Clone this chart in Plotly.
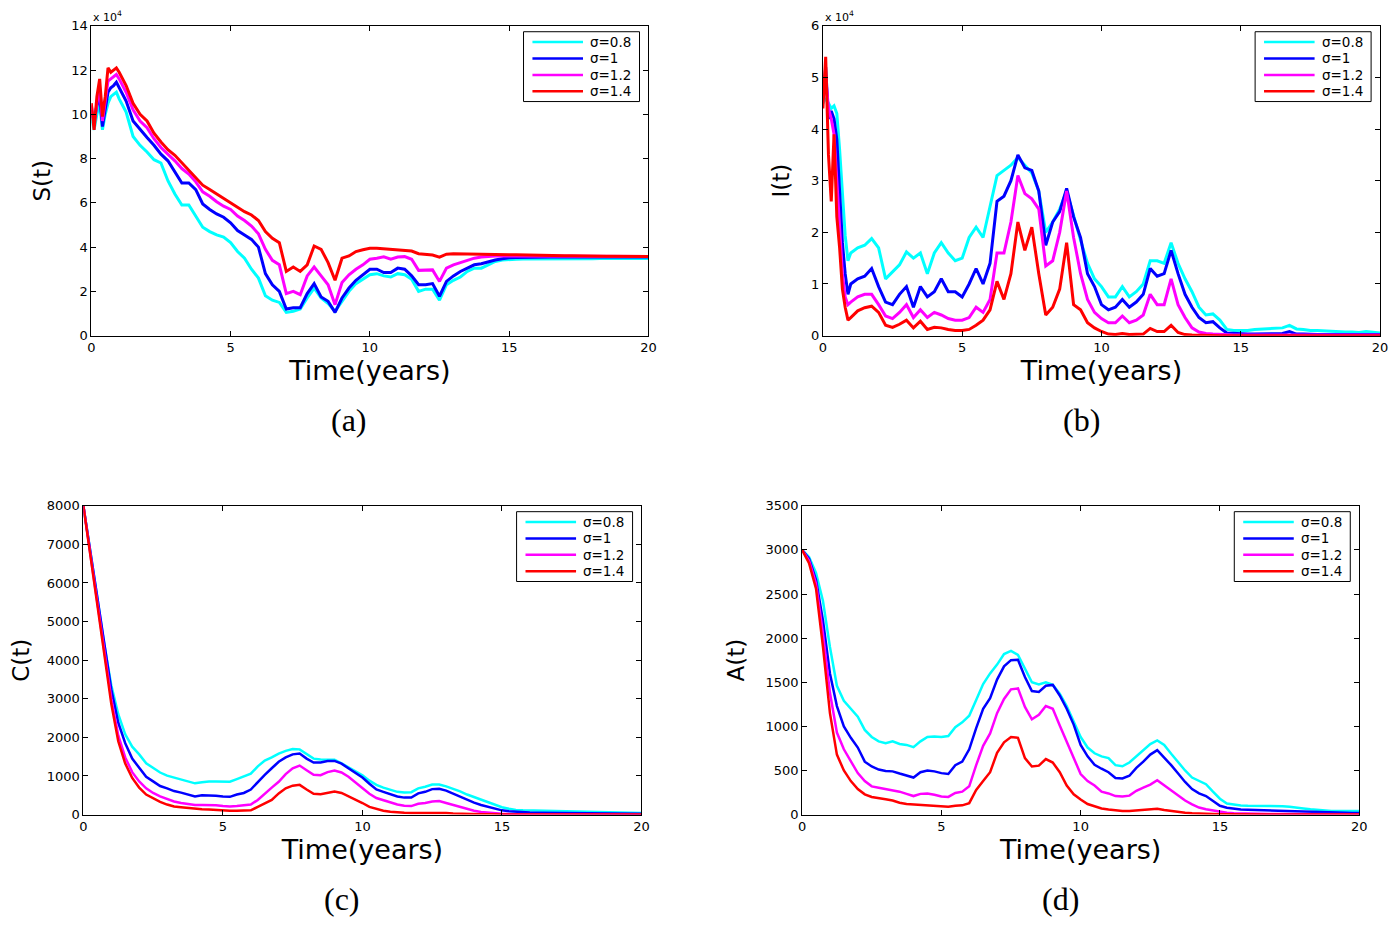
import numpy as np
import plotly.graph_objects as go

# time grids (years)
t_fine = [0, 0.1, 0.2, 0.3, 0.4, 0.5, 0.6, 0.7, 0.8, 0.9, 1.0]
t_si = t_fine + [round(v, 2) for v in np.arange(1.25, 20.01, 0.25)]
t_ca = [round(v, 2) for v in np.arange(0, 20.01, 0.25)]

labels = ["σ=0.8", "σ=1", "σ=1.2", "σ=1.4"]
colors = ["#00FFFF", "#0000FF", "#FF00FF", "#FF0000"]

# S(t), units of 1e4
S_08 = [9.9, 9.3, 10.0, 10.5, 9.3, 10.0, 10.5, 10.8, 10.9, 11.0, 10.7,
        10.1, 9.0, 8.6, 8.3,
        7.95, 7.8, 7.0, 6.4,
        5.9, 5.9, 5.4, 4.9,
        4.7, 4.55, 4.45, 4.2,
        3.8, 3.5, 3.0, 2.6,
        1.8, 1.6, 1.5, 1.05,
        1.1, 1.2, 1.7, 2.15,
        1.7, 1.45, 1.1, 1.55,
        2.0, 2.35, 2.55, 2.75,
        2.8, 2.7, 2.65, 2.8,
        2.75, 2.55, 2.0, 2.1,
        2.1, 1.6, 2.3, 2.5,
        2.65, 2.9, 3.05, 3.05,
        3.2, 3.35, 3.42, 3.45,
        3.45, 3.46, 3.46, 3.46,
        3.45, 3.45, 3.44, 3.46,
        3.46, 3.47, 3.47, 3.47,
        3.48, 3.48, 3.48, 3.48,
        3.48, 3.48, 3.48, 3.48]
S_10 = [10.2, 9.7, 10.4, 10.8, 9.45, 10.3, 11.0, 11.2, 11.3, 11.45, 11.2,
        10.6, 9.7, 9.3, 8.95,
        8.6, 8.2, 7.9, 7.4,
        6.9, 6.9, 6.6, 5.95,
        5.7, 5.5, 5.35, 5.1,
        4.75, 4.55, 4.35, 4.0,
        2.8, 2.3, 2.0, 1.2,
        1.26, 1.26, 1.9, 2.35,
        1.75, 1.55, 1.05, 1.7,
        2.15, 2.5, 2.75, 3.0,
        3.0, 2.85, 2.85, 3.05,
        3.0, 2.7, 2.3, 2.3,
        2.35, 1.78, 2.45, 2.7,
        2.9, 3.05, 3.2, 3.25,
        3.35, 3.42, 3.47, 3.52,
        3.53, 3.54, 3.54, 3.54,
        3.55, 3.55, 3.55, 3.55,
        3.55, 3.55, 3.55, 3.55,
        3.55, 3.55, 3.55, 3.55,
        3.55, 3.55, 3.55, 3.55]
S_12 = [10.4, 9.5, 10.5, 11.2, 9.7, 10.6, 11.5, 11.6, 11.7, 11.8, 11.6,
        11.0, 10.2, 9.7, 9.4,
        8.9, 8.5, 8.2, 7.9,
        7.55, 7.3, 6.95, 6.5,
        6.3, 6.05, 5.85, 5.7,
        5.4, 5.2, 4.95, 4.6,
        3.9, 3.4, 3.2, 1.9,
        2.0, 1.85, 2.7, 3.1,
        2.7, 2.3, 1.4, 2.4,
        2.75, 3.0, 3.2, 3.45,
        3.5, 3.56, 3.45, 3.55,
        3.57, 3.45, 2.95, 2.95,
        2.97, 2.45, 3.05, 3.2,
        3.3, 3.4, 3.5, 3.55,
        3.58, 3.6, 3.6, 3.6,
        3.6, 3.6, 3.6, 3.6,
        3.6, 3.6, 3.59, 3.59,
        3.59, 3.59, 3.59, 3.59,
        3.58, 3.58, 3.58, 3.58,
        3.58, 3.58, 3.58, 3.58]
S_14 = [10.5, 9.3, 10.8, 11.6, 9.9, 10.8, 12.1, 11.9, 12.0, 12.1, 11.9,
        11.3, 10.5, 10.0, 9.7,
        9.15, 8.75, 8.4, 8.15,
        7.8, 7.45, 7.15, 6.8,
        6.6, 6.4, 6.2, 6.0,
        5.8, 5.6, 5.45, 5.2,
        4.7, 4.4, 4.2, 2.9,
        3.1, 2.9, 3.2, 4.05,
        3.9, 3.3, 2.5, 3.5,
        3.6, 3.8, 3.88, 3.95,
        3.95, 3.92, 3.9, 3.88,
        3.85, 3.82, 3.7, 3.66,
        3.64, 3.55, 3.68, 3.7,
        3.69, 3.68, 3.68, 3.67,
        3.67, 3.66, 3.66, 3.65,
        3.65, 3.64, 3.64, 3.63,
        3.63, 3.62, 3.62, 3.61,
        3.61, 3.6, 3.6, 3.6,
        3.6, 3.59, 3.59, 3.59,
        3.58, 3.58, 3.58, 3.58]

# I(t), units of 1e4
I_08 = [4.5, 4.6, 4.5, 4.4, 4.45, 4.3, 3.6, 2.7, 1.94, 1.45, 1.6,
        1.7, 1.75, 1.88, 1.7,
        1.1, 1.24, 1.37, 1.62,
        1.5, 1.6, 1.2, 1.6,
        1.8, 1.6, 1.45, 1.5,
        1.9, 2.1, 1.9, 2.5,
        3.1, 3.2, 3.3, 3.45,
        3.3, 3.15, 2.8, 2.0,
        2.2, 2.45, 2.8, 2.3,
        1.85, 1.4, 1.1, 0.95,
        0.75, 0.75, 0.95, 0.75,
        0.85, 1.0, 1.45, 1.45,
        1.4, 1.8, 1.4, 1.1,
        0.85, 0.55, 0.4, 0.42,
        0.3, 0.12, 0.1, 0.1,
        0.1, 0.12, 0.13, 0.13,
        0.14, 0.15, 0.2, 0.13,
        0.12, 0.1, 0.1, 0.09,
        0.08, 0.08, 0.07, 0.07,
        0.06, 0.08, 0.06, 0.05]
I_10 = [4.6, 5.2, 4.2, 4.35, 4.2, 3.8, 2.8, 1.8, 1.2, 0.8, 1.0,
        1.1, 1.15, 1.3, 0.95,
        0.65, 0.6, 0.8, 0.95,
        0.55, 0.95, 0.75, 0.85,
        1.1, 0.85, 0.85, 0.75,
        1.0, 1.3, 1.0, 1.4,
        2.6, 2.7, 3.0, 3.5,
        3.25, 3.2, 2.8, 1.75,
        2.2, 2.4, 2.85, 2.3,
        1.9, 1.2, 0.95, 0.6,
        0.5, 0.55, 0.7, 0.55,
        0.65, 0.8, 1.3, 1.15,
        1.2, 1.65, 1.2, 0.8,
        0.55, 0.35, 0.25, 0.27,
        0.15, 0.05, 0.04, 0.03,
        0.03, 0.03, 0.03, 0.03,
        0.03, 0.04, 0.08, 0.03,
        0.03, 0.02, 0.02, 0.02,
        0.02, 0.02, 0.02, 0.02,
        0.02, 0.02, 0.02, 0.02]
I_12 = [4.6, 5.0, 4.4, 4.2, 3.9, 3.0, 2.3, 1.2, 0.75, 0.6, 0.65,
        0.75, 0.8, 0.8, 0.6,
        0.38, 0.33, 0.45, 0.6,
        0.35, 0.5, 0.35, 0.45,
        0.4, 0.33, 0.3, 0.3,
        0.35, 0.55, 0.45, 0.7,
        1.6, 1.6, 2.2, 3.1,
        2.75, 2.65, 2.45, 1.35,
        1.45, 2.0, 2.8, 1.9,
        1.2, 0.7, 0.45, 0.33,
        0.25, 0.25, 0.38, 0.25,
        0.3, 0.4, 0.8, 0.6,
        0.6, 1.1, 0.6, 0.35,
        0.15, 0.07, 0.04, 0.03,
        0.02, 0.01, 0.01, 0.01,
        0.01, 0.01, 0.01, 0.01,
        0.01, 0.01, 0.01, 0.01,
        0.01, 0.01, 0.01, 0.01,
        0.01, 0.01, 0.01, 0.01,
        0.01, 0.01, 0.01, 0.01]
I_14 = [4.4, 5.4, 3.5, 2.6, 3.9, 2.3, 1.7, 0.9, 0.55, 0.3, 0.35,
        0.48, 0.54, 0.57, 0.45,
        0.2, 0.16, 0.22, 0.3,
        0.15, 0.28, 0.12, 0.16,
        0.15, 0.12, 0.1, 0.1,
        0.12, 0.2, 0.3, 0.5,
        1.05, 0.7, 1.2, 2.2,
        1.65, 2.1, 1.2, 0.4,
        0.55, 0.9, 1.8, 0.6,
        0.5, 0.25, 0.15, 0.08,
        0.03, 0.02, 0.04, 0.02,
        0.02, 0.03, 0.14, 0.08,
        0.08, 0.2, 0.06, 0.02,
        0.01, 0.005, 0.0, 0.0,
        0.0, 0.0, 0.0, 0.0,
        0.0, 0.0, 0.0, 0.0,
        0.0, 0.0, 0.0, 0.0,
        0.0, 0.0, 0.0, 0.0,
        0.0, 0.0, 0.0, 0.0,
        0.0, 0.0, 0.0, 0.0]

# C(t)
C_08 = [8000, 6850, 5620, 4400, 3350,
        2600, 2080, 1760, 1560,
        1330, 1200, 1090, 1010,
        960, 910, 870, 810,
        840, 860, 860, 850,
        850, 920, 980, 1060,
        1250, 1400, 1480, 1580,
        1650, 1700, 1690, 1570,
        1450, 1430, 1430, 1420,
        1330, 1230, 1130, 1020,
        880, 770, 700, 640,
        590, 570, 580, 680,
        720, 780, 780, 730,
        670, 600, 520, 450,
        390, 320, 250, 190,
        150, 120, 110, 105,
        100, 98, 95, 92,
        90, 88, 85, 80,
        75, 70, 65, 60,
        55, 50, 45, 40]
C_10 = [8000, 6820, 5580, 4350, 3250,
        2380, 1850, 1450, 1200,
        980, 860, 740, 680,
        610, 570, 520, 470,
        500, 500, 490, 470,
        460, 520, 560, 650,
        850, 1030, 1200, 1370,
        1480, 1560, 1580, 1450,
        1350, 1350, 1390, 1390,
        1320, 1200, 1080, 960,
        800, 650, 590, 530,
        470, 440, 440, 550,
        590, 660, 670, 620,
        540, 450, 370, 310,
        250, 200, 150, 110,
        85, 70, 60, 55,
        50, 48, 46, 44,
        42, 40, 38, 36,
        34, 32, 30, 28,
        26, 24, 22, 20]
C_12 = [8000, 6750, 5450, 4180, 3000,
        2050, 1480, 1100, 860,
        680, 560, 470, 400,
        340, 300, 280, 250,
        250, 250, 240, 220,
        210, 220, 240, 260,
        380, 550, 700, 850,
        1050, 1200, 1270, 1150,
        1030, 1020, 1100, 1140,
        1090, 980, 840, 700,
        540, 430, 370, 310,
        260, 230, 220, 280,
        300, 340, 350, 300,
        250, 190, 140, 100,
        70, 50, 35, 25,
        18, 14, 12, 10,
        9, 8, 8, 7,
        7, 6, 6, 5,
        5, 5, 4, 4,
        4, 3, 3, 3]
C_14 = [8000, 6700, 5380, 4080, 2870,
        1900, 1320, 950, 700,
        520, 420, 330, 260,
        210, 190, 170, 150,
        140, 130, 115, 105,
        100, 100, 105, 110,
        200, 300, 380, 550,
        680, 750, 770, 650,
        540, 530, 570, 600,
        560, 480, 380, 300,
        200, 140, 100, 75,
        55, 45, 40, 42,
        45, 48, 50, 40,
        30, 20, 14, 10,
        8, 6, 5, 4,
        3, 3, 2, 2,
        2, 2, 1, 1,
        1, 1, 1, 1,
        1, 1, 1, 1,
        1, 1, 1, 1]

# A(t)
A_08 = [3000, 2920, 2740, 2420, 1900,
        1460, 1290, 1200, 1110,
        960, 880, 830, 810,
        830, 800, 790, 765,
        830, 880, 885, 880,
        890, 990, 1045, 1120,
        1300, 1480, 1600, 1700,
        1820, 1855, 1810, 1650,
        1500, 1475, 1500, 1470,
        1370, 1230, 1060, 880,
        760, 695, 660, 640,
        560, 548, 590, 660,
        730, 800, 840, 790,
        690, 590, 500, 420,
        380, 345, 260, 180,
        125, 110, 103, 100,
        100, 98, 100, 102,
        95, 88, 82, 70,
        60, 52, 46, 42,
        40, 40, 40, 40]
A_10 = [3000, 2900, 2660, 2200, 1600,
        1230, 1000, 870, 760,
        600, 545, 510, 495,
        490, 465, 445, 420,
        480, 500, 490, 470,
        460, 560, 600, 740,
        980, 1200, 1320, 1530,
        1680, 1750, 1755, 1560,
        1400, 1390, 1460, 1470,
        1350, 1200, 1020, 790,
        660, 565, 520, 480,
        415, 410, 440, 530,
        600, 680, 730, 650,
        560, 465, 370, 290,
        240, 210, 150, 100,
        78, 65, 58, 55,
        52, 50, 48, 46,
        42, 38, 35, 32,
        30, 28, 26, 24,
        22, 20, 19, 18]
A_12 = [3000, 2880, 2620, 2050, 1380,
        930, 740, 600, 470,
        380, 320, 305, 290,
        280, 260, 235, 210,
        235, 240, 225, 205,
        200, 245, 260, 320,
        560, 780, 920, 1150,
        1310, 1420, 1430, 1220,
        1080, 1130, 1230, 1200,
        1010, 820, 640, 460,
        380, 330, 260, 240,
        210, 205, 215, 270,
        305, 340, 390, 330,
        270, 210, 160, 115,
        80, 60, 45, 30,
        22, 15, 12, 10,
        9, 8, 8, 7,
        7, 6, 6, 5,
        5, 5, 4, 4,
        4, 3, 3, 3]
A_14 = [3000, 2850, 2560, 1900, 1150,
        680, 500, 380, 290,
        230, 200, 190, 175,
        160, 135, 120, 115,
        115, 110, 100, 92,
        90, 100, 105, 130,
        280, 380, 480, 700,
        820, 880, 870, 640,
        545, 555, 630, 590,
        480, 330, 230, 170,
        120, 95, 70, 58,
        48, 42, 40, 45,
        52, 60, 65, 52,
        40, 30, 22, 15,
        11, 8, 6, 5,
        4, 3, 3, 2,
        2, 2, 2, 1,
        1, 1, 1, 1,
        1, 1, 1, 1,
        1, 1, 1, 1]

panels = [
    ("S(t)", t_si, [S_08, S_10, S_12, S_14], 3),
    ("I(t)", t_si, [I_08, I_10, I_12, I_14], 3),
    ("C(t)", t_ca, [C_08, C_10, C_12, C_14], 2.5),
    ("A(t)", t_ca, [A_08, A_10, A_12, A_14], 2.5),
]
for name, tt, series, _ in panels:
    for s in series:
        assert len(s) == len(tt), (name, len(s), len(tt))

# page has an 8px body margin, so the figure is shrunk by it
OFF = 8
W, H = 1398 - 2 * OFF, 926 - 2 * OFF


def px(p):
    return (p - OFF) / W


def py(p):
    return 1 - (p - OFF) / H


# plot boxes in window pixels: left, right, top, bottom
boxes = [(88, 650, 19, 334), (826, 1388, 19, 334),
         (80, 643, 507, 821), (805, 1367, 507, 821)]
yranges = [(0, 14, 2), (0, 6, 1), (0, 8000, 1000), (0, 3500, 500)]
captions = ["(a)", "(b)", "(c)", "(d)"]
caption_xy = [(348, 420), (1087, 420), (341, 907), (1066, 907)]

fig = go.Figure()
shapes = []
annotations = []
layout = dict(width=W, height=H, margin=dict(l=0, r=0, t=0, b=0),
              plot_bgcolor="white", paper_bgcolor="white",
              font=dict(family="DejaVu Sans", color="black"),
              showlegend=False)

for k, (name, tt, series, lw) in enumerate(panels):
    n = k + 1
    xa = "x" if n == 1 else "x%d" % n
    ya = "y" if n == 1 else "y%d" % n
    for s, lab, col in zip(series, labels, colors):
        fig.add_trace(go.Scatter(x=tt, y=s, mode="lines", name=lab,
                                 line=dict(color=col, width=lw),
                                 xaxis=xa, yaxis=ya))
    l, r, tp, bt = boxes[k]
    common = dict(showline=True, linecolor="black", linewidth=1,
                  mirror="allticks", ticks="inside", ticklen=5,
                  tickcolor="black", showgrid=False, zeroline=False,
                  tickfont=dict(size=13, color="black"))
    layout["xaxis" if n == 1 else "xaxis%d" % n] = dict(
        domain=[px(l), px(r)], anchor=ya, range=[0, 20], dtick=5,
        title=dict(text="Time(years)", font=dict(size=27), standoff=2),
        **common)
    y0, y1, dy = yranges[k]
    layout["yaxis" if n == 1 else "yaxis%d" % n] = dict(
        domain=[py(bt), py(tp)], anchor=xa, range=[y0, y1], dtick=dy,
        title=dict(text=name, font=dict(size=23), standoff=14),
        **common)

    # boxed legend in the upper right corner, MATLAB style
    bx1 = r - 9
    bx0 = bx1 - 117
    by0 = tp + 6
    shapes.append(dict(type="rect", xref="paper", yref="paper",
                       x0=px(bx0), x1=px(bx1), y0=py(by0), y1=py(by0 + 71),
                       line=dict(color="black", width=1), fillcolor="white",
                       layer="above"))
    for j, (lab, col) in enumerate(zip(labels, colors)):
        ry = by0 + 10.5 + j * 16.7
        shapes.append(dict(type="line", xref="paper", yref="paper",
                           x0=px(bx0 + 9), x1=px(bx0 + 60),
                           y0=py(ry), y1=py(ry),
                           line=dict(color=col, width=2.5), layer="above"))
        annotations.append(dict(text=lab, x=px(bx0 + 65), y=py(ry),
                                xref="paper", yref="paper", xanchor="left",
                                yanchor="middle", showarrow=False,
                                font=dict(size=13.5)))

    cx, cy = caption_xy[k]
    annotations.append(dict(
        text=captions[k], x=px(cx), y=py(cy), xanchor="center",
        yanchor="middle", xref="paper", yref="paper", showarrow=False,
        font=dict(family="Liberation Serif", size=32)))
    if k < 2:
        annotations.append(dict(
            text="x 10<sup>4</sup>", x=px(l), y=py(tp), xref="paper",
            yref="paper", xanchor="left", yanchor="bottom", showarrow=False,
            font=dict(size=11)))

layout["shapes"] = shapes
layout["annotations"] = annotations
fig.update_layout(**layout)
fig.write_html("out.html")
